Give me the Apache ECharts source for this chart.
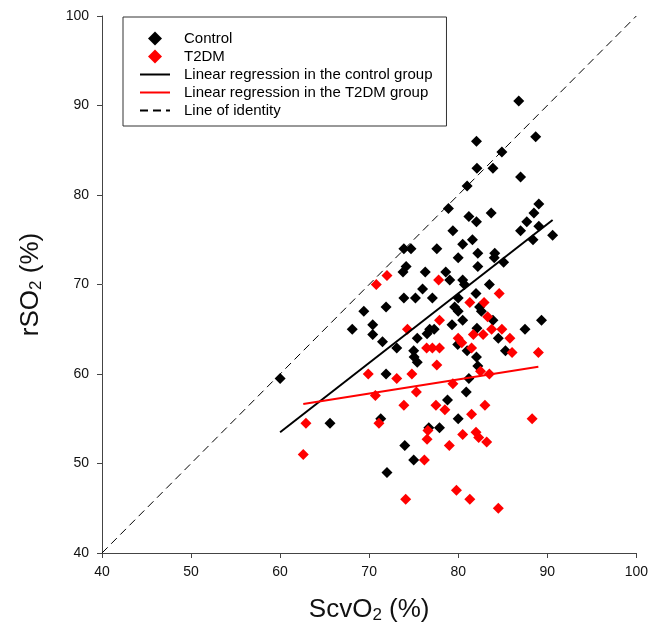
<!DOCTYPE html>
<html>
<head>
<meta charset="utf-8">
<script src="https://cdn.jsdelivr.net/npm/echarts@6/dist/echarts.min.js"></script>
<style>html,body{margin:0;padding:0;background:#fff}#c{width:651px;height:629px}</style>
</head>
<body>
<div id="c"></div>
<script>
// Control group: [ScvO2, rSO2]
const controlData = [
  [86.8,90.5],[82.05,86.0],[88.7,86.5],[84.9,84.8],[82.1,83.0],[83.9,83.0],[87.0,82.0],[81.0,81.0],
  [78.9,78.5],[89.05,79.0],[88.5,78.0],[87.7,77.0],[89.05,76.5],[90.6,75.5],[87.0,76.0],[81.2,77.6],
  [82.05,77.0],[83.7,78.0],[79.4,76.0],[81.6,75.0],[88.4,75.0],
  [73.9,74.0],[74.7,74.0],[77.6,74.0],[80.5,74.5],[82.2,73.5],[84.1,73.5],[80.0,73.0],[84.05,73.0],
  [85.1,72.5],[82.2,72.0],[74.15,72.0],[73.8,71.4],[76.3,71.4],[78.6,71.4],[79.05,70.5],[80.5,70.5],
  [80.7,70.0],[83.5,70.0],[76.0,69.5],[82.0,69.0],[73.9,68.5],[75.2,68.5],[77.1,68.5],[80.0,68.5],
  [69.4,67.0],[71.9,67.5],[79.6,67.5],[80.0,67.0],[82.4,67.5],[82.6,67.0],[83.9,66.0],[89.35,66.0],
  [80.5,66.0],[68.1,65.0],[70.4,65.5],[70.4,64.4],[79.3,65.5],[82.1,65.1],[87.5,65.0],[76.8,65.0],
  [77.3,65.0],[76.5,64.5],[75.4,64.0],[71.5,63.6],[84.5,64.0],[79.95,63.3],[73.1,62.9],[85.3,62.6],
  [75.0,62.6],[81.0,62.6],[75.05,61.9],[82.05,61.9],[75.4,61.3],[82.2,60.9],[71.9,60.0],[60.0,59.5],
  [81.2,59.5],[80.9,58.0],[78.8,57.1],[80.0,55.0],[71.3,55.0],[65.6,54.5],[76.7,54.0],[77.9,54.0],
  [74.0,52.0],[75.0,50.4],[72.0,49.0]
];
// T2DM group: [ScvO2, rSO2]
const t2dmData = [
  [72.0,71.0],[70.8,70.0],[77.8,70.5],[84.6,69.0],[81.3,68.0],[82.9,68.0],[83.3,66.4],[77.9,66.0],
  [74.3,65.0],[83.75,65.0],[84.9,65.0],[81.7,64.4],[82.8,64.4],[80.0,64.0],[80.4,63.5],[85.8,64.0],
  [76.45,62.9],[77.1,62.9],[77.9,62.9],[81.5,62.9],[86.05,62.4],[89.0,62.4],[77.6,61.0],[82.5,60.3],
  [83.5,60.0],[69.9,60.0],[73.1,59.5],[74.8,60.0],[79.4,58.9],[75.3,58.0],[70.7,57.6],[73.9,56.5],
  [77.5,56.5],[78.5,56.0],[83.0,56.5],[81.5,55.5],[88.3,55.0],[71.1,54.5],[62.9,54.5],[76.6,53.7],
  [76.5,52.7],[80.5,53.25],[82.0,53.5],[82.3,52.9],[83.2,52.4],[79.0,52.0],[62.6,51.0],[76.2,50.4],
  [79.8,47.0],[74.1,46.0],[81.3,46.0],[84.5,45.0]
];
// Regression line end points
const controlFit = [[60.0,53.5],[90.6,77.2]];
const t2dmFit = [[62.6,56.65],[89.0,60.8]];
const identityLine = [[40,40],[100,100]];
const axisTicks = [40,50,60,70,80,90,100];
const legendNames = ['Control','T2DM','Linear regression in the control group','Linear regression in the T2DM group','Line of identity'];

const FONT = 'Liberation Sans, Arial, sans-serif';
const chart = echarts.init(document.getElementById('c'), null, {renderer:'canvas'});
const axisCommon = {
  type:'value', min: axisTicks[0], max: axisTicks[axisTicks.length-1], interval: 10,
  axisLine:{show:true, onZero:false, lineStyle:{color:'#444', width:1}},
  axisTick:{show:true, inside:false, length:5, lineStyle:{color:'#444'}},
  splitLine:{show:false},
  axisLabel:{color:'#111', fontSize:14, fontFamily:FONT}
};
const diamond = 'path://M0,-1L1,0L0,1L-1,0Z';
chart.setOption({
  animation:false,
  backgroundColor:'#fff',
  grid:{left:102, right:12, top:16, bottom:76},
  legend:{
    orient:'vertical', left:123, top:17,
    borderColor:'#333', borderWidth:1, padding:[14,14,8,16],
    itemWidth:30, itemHeight:14, itemGap:3, symbolKeepAspect:true,
    textStyle:{fontFamily:FONT, fontSize:15, lineHeight:14, color:'#000', padding:[0,0,0,9]},
    data:[
      {name:legendNames[0], icon:diamond},
      {name:legendNames[1], icon:diamond},
      {name:legendNames[2], itemStyle:{opacity:0}},
      {name:legendNames[3], itemStyle:{opacity:0}},
      {name:legendNames[4], itemStyle:{opacity:0}}
    ]
  },
  xAxis:Object.assign({}, axisCommon, {
    axisLabel:Object.assign({}, axisCommon.axisLabel, {margin:12}),
    name:'ScvO{s|2} (%)', nameLocation:'middle', nameGap:42,
    nameTextStyle:{fontSize:26, fontFamily:FONT, color:'#111',
      rich:{s:{fontSize:17, fontFamily:FONT, color:'#111', padding:[12,0,0,0]}}}
  }),
  yAxis:Object.assign({}, axisCommon, {
    axisLabel:Object.assign({}, axisCommon.axisLabel, {margin:13}),
    name:'rSO{s|2} (%)', nameLocation:'middle', nameGap:57, nameRotate:90,
    nameTextStyle:{fontSize:26, fontFamily:FONT, color:'#111',
      rich:{s:{fontSize:17, fontFamily:FONT, color:'#111', padding:[12,0,0,0]}}}
  }),
  series:[
    {name:legendNames[4], type:'line', data:identityLine, symbol:'none', z:1,
      lineStyle:{color:'#000', width:1, type:[8,5]}, itemStyle:{color:'#000'}},
    {name:legendNames[0], type:'scatter', data:controlData, symbol:'diamond', symbolSize:11, z:3,
      itemStyle:{color:'#000', opacity:1}},
    {name:legendNames[1], type:'scatter', data:t2dmData, symbol:'diamond', symbolSize:11, z:4,
      itemStyle:{color:'#ff0000', opacity:1}},
    {name:legendNames[2], type:'line', data:controlFit, symbol:'none', z:5,
      lineStyle:{color:'#000', width:2}, itemStyle:{color:'#000'}},
    {name:legendNames[3], type:'line', data:t2dmFit, symbol:'none', z:5,
      lineStyle:{color:'#ff0000', width:2}, itemStyle:{color:'#ff0000'}}
  ]
});
</script>
</body>
</html>
